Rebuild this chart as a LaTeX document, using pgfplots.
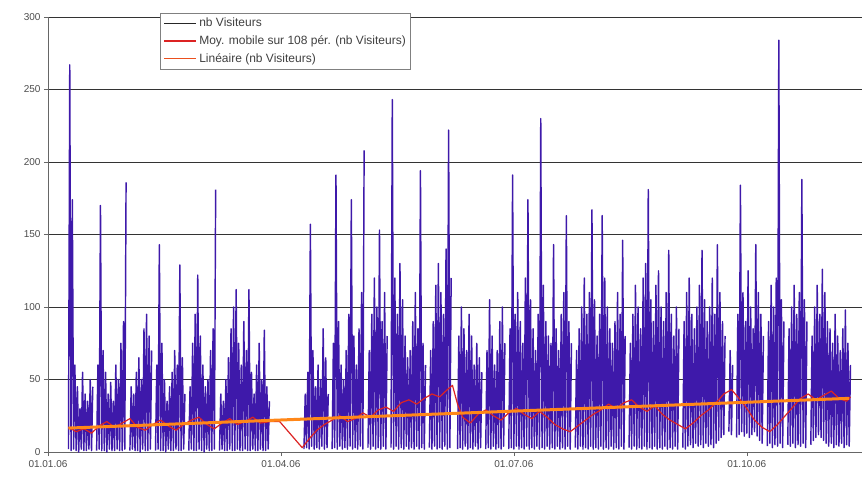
\documentclass[border=0pt]{standalone}
\usepackage{pgfplots}
\pgfplotsset{compat=1.18}
\usepackage{fontspec}
\setmainfont{Liberation Sans}
\definecolor{visit}{RGB}{62,25,170}
\definecolor{mared}{RGB}{220,35,35}
\definecolor{trend}{RGB}{255,135,25}
\definecolor{legtrend}{RGB}{235,80,30}
\begin{document}
\begin{tikzpicture}
\path[use as bounding box] (-48pt,-27pt) rectangle (814pt,452pt);
\begin{axis}[
  at={(0pt,0pt)}, anchor=south west,
  scale only axis, width=814pt, height=435pt,
  xmin=0, xmax=318, ymin=0, ymax=300,
  axis lines=left, axis line style={-, draw=gray!80!black, line width=0.8pt},
  ytick={0,50,...,300},
  xtick={0,91,182,273},
  xticklabels={01.01.06,01.04.06,01.07.06,01.10.06},
  tick align=outside, major tick length=4pt,
  tick style={draw=gray!80!black, line width=0.6pt},
  ymajorgrids, grid style={draw=black!80, line width=0.8pt},
  tick label style={font=\fontsize{10}{11}\selectfont, text=black!70},
  xticklabel style={yshift=-1pt},
  /pgf/number format/assume math mode=true,
  unbounded coords=jump,
  legend style={at={(0.138,1.01)}, anchor=north west, draw=gray, line width=0.7pt,
    font=\fontsize{12}{13}\selectfont\color{black!75}, inner xsep=3pt, inner ysep=3pt,
    row sep=3.5pt},
  legend cell align=left,
  legend image code/.code={\draw[#1] (0pt,0pt) -- (32pt,0pt);},
  clip=true,
]
\addlegendimage{color=black!85, line width=0.8pt}
\addlegendentry{nb Visiteurs}
\addlegendimage{color=mared, line width=1.3pt}
\addlegendentry{Moy. mobile sur 108 pér. (nb Visiteurs)}
\addlegendimage{color=legtrend, line width=1.6pt}
\addlegendentry{Linéaire (nb Visiteurs)}
\addplot[forget plot, draw=visit, line width=1.45pt, line join=round] coordinates {
(8,2)(8.5,267)(9,1)(9.5,174)(10,2)(10.5,60)(11,1)(11.5,45)(12,0)(12.5,30)(13,2)(13.5,55)(14,1)(14.5,40)(15,1)(15.5,35)(16,2)(16.5,50)(17,1)(17.5,45)(18,nan)
(19,1)(19.5,60)(20,2)(20.5,170)(21,1)(21.5,70)(22,1)(22.5,55)(23,0)(23.5,40)(24,2)(24.5,48)(25,1)(25.5,35)(26,1)(26.5,60)(27,2)(27.5,50)(28,1)(28.5,75)(29,1)(29.5,90)(30,2)(30.5,186)(31,nan)
(32,1)(32.5,45)(33,2)(33.5,40)(34,1)(34.5,55)(35,1)(35.5,65)(36,0)(36.5,50)(37,2)(37.5,85)(38,1)(38.5,95)(39,1)(39.5,80)(40,2)(40.5,70)(41,nan)
(42,1)(42.5,60)(43,2)(43.5,143)(44,1)(44.5,75)(45,1)(45.5,50)(46,0)(46.5,35)(47,2)(47.5,45)(48,1)(48.5,55)(49,1)(49.5,70)(50,2)(50.5,60)(51,1)(51.5,129)(52,1)(52.5,65)(53,2)(53.5,40)(54,nan)
(55,1)(55.5,45)(56,2)(56.5,75)(57,1)(57.5,95)(58,1)(58.5,122)(59,2)(59.5,80)(60,1)(60.5,60)(61,0)(61.5,45)(62,2)(62.5,50)(63,1)(63.5,70)(64,1)(64.5,85)(65,2)(65.5,181)(66,nan)
(67,1)(67.5,40)(68,2)(68.5,35)(69,1)(69.5,50)(70,1)(70.5,65)(71,2)(71.5,85)(72,1)(72.5,100)(73,1)(73.5,112)(74,2)(74.5,75)(75,1)(75.5,60)(76,1)(76.5,90)(77,2)(77.5,70)(78,1)(78.5,112)(79,1)(79.5,55)(80,2)(80.5,40)(81,1)(81.5,60)(82,1)(82.5,75)(83,2)(83.5,50)(84,1)(84.5,84)(85,1)(85.5,45)(86,2)(86.5,35)(87,nan)
(100,2)(100.5,40)(101,3)(101.5,55)(102,2)(102.5,157)(103,4)(103.5,70)(104,2)(104.5,45)(105,3)(105.5,60)(106,2)(106.5,50)(107,4)(107.5,85)(108,2)(108.5,65)(109,3)(109.5,40)(110,nan)
(111,2)(111.5,75)(112,3)(112.5,191)(113,2)(113.5,90)(114,4)(114.5,60)(115,2)(115.5,50)(116,3)(116.5,70)(117,2)(117.5,95)(118,4)(118.5,174)(119,2)(119.5,80)(120,3)(120.5,60)(121,2)(121.5,85)(122,4)(122.5,110)(123,2)(123.5,208)(124,nan)
(125,3)(125.5,70)(126,2)(126.5,95)(127,4)(127.5,120)(128,2)(128.5,100)(129,3)(129.5,153)(130,2)(130.5,90)(131,4)(131.5,110)(132,2)(132.5,80)(133,nan)
(134,3)(134.5,243)(135,2)(135.5,120)(136,4)(136.5,95)(137,2)(137.5,130)(138,3)(138.5,105)(139,2)(139.5,80)(140,4)(140.5,65)(141,2)(141.5,70)(142,3)(142.5,90)(143,2)(143.5,110)(144,4)(144.5,85)(145,2)(145.5,194)(146,3)(146.5,75)(147,2)(147.5,60)(148,nan)
(149,3)(149.5,70)(150,2)(150.5,90)(151,4)(151.5,115)(152,2)(152.5,130)(153,3)(153.5,110)(154,2)(154.5,95)(155,4)(155.5,140)(156,2)(156.5,222)(157,3)(157.5,120)(158,nan)
(160,2)(160.5,80)(161,3)(161.5,100)(162,2)(162.5,85)(163,4)(163.5,70)(164,2)(164.5,95)(165,3)(165.5,80)(166,2)(166.5,60)(167,4)(167.5,75)(168,2)(168.5,65)(169,3)(169.5,55)(170,nan)
(171,2)(171.5,70)(172,3)(172.5,105)(173,2)(173.5,80)(174,4)(174.5,60)(175,2)(175.5,70)(176,3)(176.5,90)(177,2)(177.5,100)(178,4)(178.5,75)(179,nan)
(180,2)(180.5,85)(181,3)(181.5,191)(182,2)(182.5,95)(183,4)(183.5,110)(184,2)(184.5,90)(185,3)(185.5,75)(186,2)(186.5,120)(187,4)(187.5,174)(188,2)(188.5,105)(189,3)(189.5,85)(190,2)(190.5,70)(191,4)(191.5,95)(192,2)(192.5,230)(193,3)(193.5,115)(194,2)(194.5,90)(195,4)(195.5,80)(196,2)(196.5,75)(197,3)(197.5,143)(198,2)(198.5,85)(199,4)(199.5,70)(200,2)(200.5,95)(201,3)(201.5,110)(202,2)(202.5,163)(203,4)(203.5,90)(204,2)(204.5,75)(205,nan)
(206,3)(206.5,70)(207,2)(207.5,85)(208,4)(208.5,100)(209,2)(209.5,120)(210,3)(210.5,95)(211,2)(211.5,110)(212,4)(212.5,167)(213,2)(213.5,105)(214,3)(214.5,80)(215,2)(215.5,95)(216,4)(216.5,163)(217,2)(217.5,120)(218,3)(218.5,100)(219,2)(219.5,85)(220,4)(220.5,75)(221,2)(221.5,90)(222,3)(222.5,110)(223,2)(223.5,95)(224,4)(224.5,146)(225,2)(225.5,80)(226,nan)
(227,3)(227.5,75)(228,2)(228.5,95)(229,4)(229.5,115)(230,2)(230.5,100)(231,3)(231.5,85)(232,2)(232.5,120)(233,4)(233.5,130)(234,2)(234.5,181)(235,3)(235.5,105)(236,2)(236.5,90)(237,4)(237.5,115)(238,2)(238.5,125)(239,3)(239.5,100)(240,2)(240.5,90)(241,4)(241.5,110)(242,2)(242.5,139)(243,3)(243.5,95)(244,2)(244.5,80)(245,4)(245.5,100)(246,2)(246.5,85)(247,nan)
(248,3)(248.5,90)(249,2)(249.5,110)(250,4)(250.5,120)(251,5)(251.5,95)(252,3)(252.5,85)(253,6)(253.5,100)(254,4)(254.5,115)(255,5)(255.5,139)(256,3)(256.5,105)(257,6)(257.5,90)(258,4)(258.5,100)(259,5)(259.5,120)(260,3)(260.5,95)(261,6)(261.5,143)(262,8)(262.5,110)(263,10)(263.5,90)(264,12)(264.5,80)(265,nan)
(266,14)(266.5,70)(267,12)(267.5,60)(268,nan)
(269,10)(269.5,95)(270,12)(270.5,184)(271,14)(271.5,110)(272,11)(272.5,90)(273,13)(273.5,125)(274,10)(274.5,100)(275,12)(275.5,85)(276,14)(276.5,143)(277,11)(277.5,110)(278,8)(278.5,95)(279,6)(279.5,80)(280,nan)
(281,4)(281.5,90)(282,6)(282.5,115)(283,3)(283.5,100)(284,5)(284.5,120)(285,4)(285.5,284)(286,6)(286.5,105)(287,3)(287.5,90)(288,nan)
(289,5)(289.5,85)(290,4)(290.5,100)(291,6)(291.5,115)(292,3)(292.5,95)(293,5)(293.5,110)(294,4)(294.5,188)(295,6)(295.5,105)(296,3)(296.5,90)(297,nan)
(298,5)(298.5,80)(299,8)(299.5,100)(300,10)(300.5,115)(301,12)(301.5,95)(302,10)(302.5,126)(303,8)(303.5,110)(304,6)(304.5,90)(305,4)(305.5,85)(306,6)(306.5,75)(307,3)(307.5,95)(308,5)(308.5,80)(309,4)(309.5,70)(310,6)(310.5,85)(311,3)(311.5,98)(312,5)(312.5,75)(313,4)(313.5,60)
};
\addplot[forget plot, draw=mared, line width=1.2pt, line join=round] coordinates {
(8,17)(11,14)(14,16)(17,13)(20,18)(23,21)(26,17)(29,20)(32,23)(35,17)(38,15)(41,19)(44,22)(47,18)(50,15)(53,19)(56,22)(59,24)(62,19)(65,16)(68,20)(71,23)(74,19)(77,21)(80,24)(83,20)(87,21)(90.5,21)(99.3,3)(102,9)(105,15)(108,19)(111,22)(114,25)(117,21)(120,23)(123,27)(126,24)(129,29)(132,31)(135,28)(138,34)(141,36)(144,33)(147,37)(150,40)(153,38)(156,43)(158,46)(160,33)(162,24)(165,20)(168,26)(171,29)(174,25)(177,22)(180,27)(183,30)(186,26)(189,23)(192,28)(195,24)(198,19)(201,16)(204,14)(207,18)(210,22)(213,26)(216,29)(219,33)(222,30)(225,34)(228,36)(231,31)(234,28)(237,32)(240,26)(243,22)(246,19)(249,16)(252,20)(255,25)(258,29)(261,34)(264,40)(267,43)(270,37)(273,30)(276,22)(279,17)(282,14)(285,19)(288,25)(291,31)(294,37)(297,40)(300,36)(303,39)(306,42)(309,37)(312,35)(313.5,38)
};
\addplot[forget plot, draw=trend, line width=3pt] coordinates {(8,16.5)(313,37)};
\end{axis}
\end{tikzpicture}
\end{document}
